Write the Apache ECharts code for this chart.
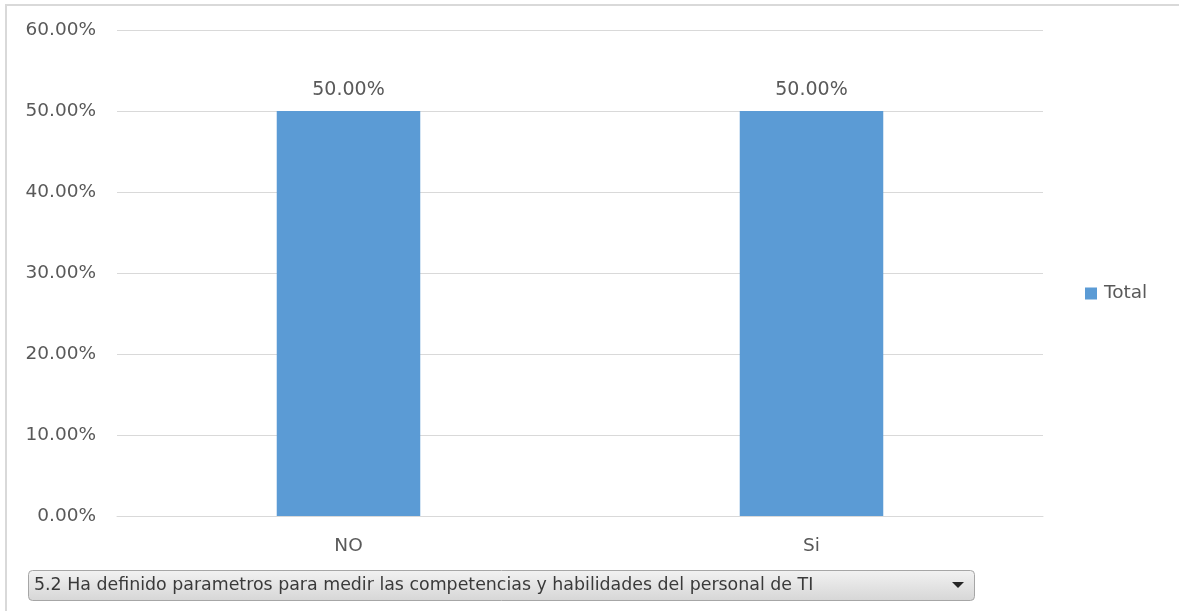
<!DOCTYPE html>
<html>
<head>
<meta charset="utf-8">
<script src="https://cdn.jsdelivr.net/npm/echarts@6/dist/echarts.min.js"></script>
<style>
  html, body { margin: 0; padding: 0; background: #fff; }
  #chart { width: 1179px; height: 611px; }
</style>
</head>
<body>
<div id="chart"></div>
<script>
// Survey answers and their share of responses (percent)
const categories = ['NO', 'Si'];
const totalValues = [50, 50];
const seriesName = 'Total';
const filterLabel = '5.2 Ha definido parametros para medir las competencias y habilidades del personal de TI';

const FONT = '"DejaVu Sans", "Open Sans", sans-serif';
const TEXT = '#595959';

const chart = echarts.init(document.getElementById('chart'));
chart.setOption({
  animation: false,
  textStyle: { fontFamily: FONT },
  grid: { left: 117, right: 136, top: 30, bottom: 95 },
  legend: {
    data: [seriesName],
    orient: 'vertical',
    left: 1080,
    top: 279,
    itemWidth: 12,
    itemHeight: 12,
    itemGap: 6,
    icon: 'rect',
    textStyle: { color: TEXT, fontSize: 18.5, fontFamily: FONT, padding: [0, 0, 0, 2] }
  },
  xAxis: {
    type: 'category',
    data: categories,
    axisLine: { show: true, lineStyle: { color: '#d9d9d9' } },
    axisTick: { show: false },
    axisLabel: { color: TEXT, fontSize: 18.5, margin: 21 }
  },
  yAxis: {
    type: 'value',
    min: 0,
    max: 60,
    interval: 10,
    axisLine: { show: false },
    axisTick: { show: false },
    splitLine: { lineStyle: { color: '#d9d9d9' } },
    axisLabel: {
      color: TEXT,
      fontSize: 18.5,
      margin: 21,
      formatter: v => v.toFixed(2) + '%'
    }
  },
  series: [{
    name: seriesName,
    type: 'bar',
    data: totalValues,
    barWidth: '31%',
    itemStyle: { color: '#5b9bd5' },
    label: {
      show: true,
      position: 'top',
      distance: 11,
      color: TEXT,
      fontSize: 19,
      formatter: p => p.value.toFixed(2) + '%'
    }
  }],
  graphic: [
    // outer frame (top and left edges)
    { type: 'line', shape: { x1: 5, y1: 5, x2: 1179, y2: 5 }, style: { stroke: '#d9d9d9', lineWidth: 2 }, silent: true },
    { type: 'line', shape: { x1: 6, y1: 5, x2: 6, y2: 611 }, style: { stroke: '#d9d9d9', lineWidth: 2 }, silent: true },
    // field filter button
    {
      type: 'rect',
      shape: { x: 28.5, y: 570.5, width: 946, height: 30, r: 4 },
      style: {
        stroke: '#a6a6a6',
        lineWidth: 1,
        fill: new echarts.graphic.LinearGradient(0, 0, 0, 1, [
          { offset: 0, color: '#f2f2f2' },
          { offset: 1, color: '#d6d6d6' }
        ])
      }
    },
    {
      type: 'text',
      left: 34,
      top: 577,
      style: { text: filterLabel, fill: '#3a3a3a', fontSize: 17.4, fontFamily: FONT }
    },
    {
      type: 'polygon',
      shape: { points: [[952, 582], [964, 582], [958, 588]] },
      style: { fill: '#262626' }
    }
  ]
});
</script>
</body>
</html>
